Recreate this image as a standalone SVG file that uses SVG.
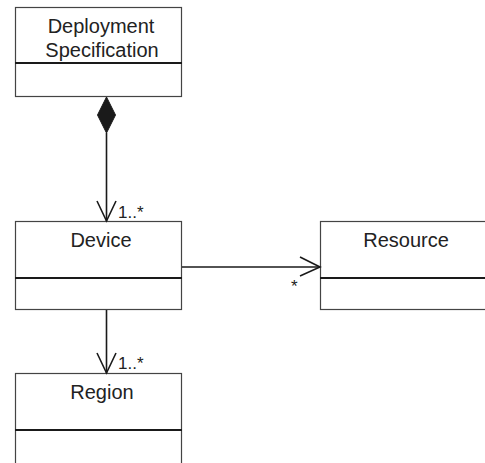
<svg xmlns="http://www.w3.org/2000/svg" width="485" height="463" viewBox="0 0 485 463">
<defs>
<style>
.box{fill:#fff;stroke:#444;stroke-width:1.2}
.sep{stroke:#1a1a1a;stroke-width:2}
.t{font-family:"Liberation Sans",Arial,sans-serif;font-size:20px;fill:#222;text-anchor:middle}
.m{font-family:"Liberation Sans",Arial,sans-serif;font-size:17px;fill:#222}
.c{fill:none;stroke:#1a1a1a;stroke-width:1.6}
</style>
</defs>
<rect width="485" height="463" fill="#fff"/>
<g id="deployment-specification">
<rect class="box" x="15.5" y="7.5" width="166" height="89"/>
<line class="sep" x1="15" y1="63" x2="182" y2="63"/>
<text class="t" x="101" y="33">Deployment</text>
<text class="t" x="102" y="57">Specification</text>
</g>
<g id="device">
<rect class="box" x="15.5" y="221.5" width="166" height="88"/>
<line class="sep" x1="15" y1="278" x2="182" y2="278"/>
<text class="t" x="101" y="247">Device</text>
</g>
<g id="resource">
<rect class="box" x="320.5" y="221.5" width="170" height="88"/>
<line class="sep" x1="320" y1="278" x2="485" y2="278"/>
<text class="t" x="406" y="247">Resource</text>
</g>
<g id="region">
<rect class="box" x="15.5" y="373.5" width="166" height="95"/>
<line class="sep" x1="15" y1="430" x2="182" y2="430"/>
<text class="t" x="102" y="399">Region</text>
</g>
<g id="connectors">
<path d="M106.5 97 L115.5 115 L106.5 133 L97.5 115 Z" fill="#1a1a1a" stroke="#1a1a1a" stroke-width="1"/>
<line class="c" x1="106.5" y1="133" x2="106.5" y2="221"/>
<polyline class="c" points="97,201 106.5,221 116,201"/>
<text class="m" x="118" y="218">1..*</text>
<line class="c" x1="182" y1="267" x2="320" y2="267"/>
<polyline class="c" points="300,257 320,267 300,276"/>
<text class="m" x="291" y="292">*</text>
<line class="c" x1="106.5" y1="310" x2="106.5" y2="373"/>
<polyline class="c" points="97,353 106.5,373 116,353"/>
<text class="m" x="118" y="369">1..*</text>
</g>
</svg>
